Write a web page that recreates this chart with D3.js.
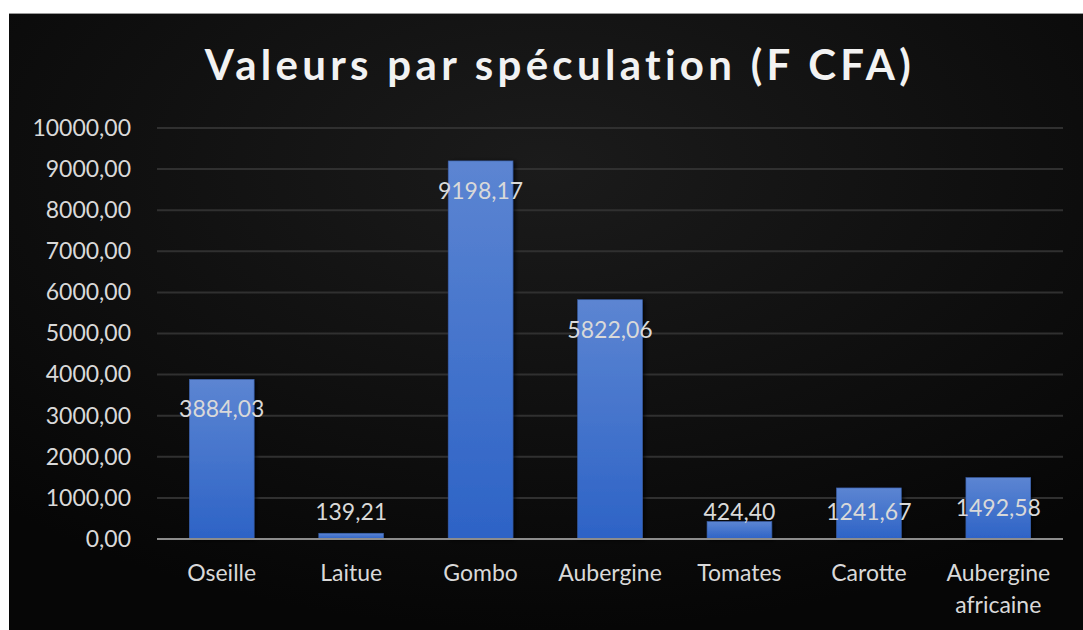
<!DOCTYPE html>
<html>
<head>
<meta charset="utf-8">
<script src="https://cdn.jsdelivr.net/npm/d3@7"></script>
<style>
  body { margin: 0; background: #fff; }
  text { font-family: Lato, "Open Sans", sans-serif; }
</style>
</head>
<body>
<svg id="chart" width="1083" height="630"></svg>
<script>
// data
const categories = ["Oseille", "Laitue", "Gombo", "Aubergine", "Tomates", "Carotte", "Aubergine africaine"];
const values = [3884.03, 139.21, 9198.17, 5822.06, 424.40, 1241.67, 1492.58];
const yTicks = [0, 1000, 2000, 3000, 4000, 5000, 6000, 7000, 8000, 9000, 10000];

const fmt = v => d3.format(".2f")(v).replace(".", ",");
const FONT = "Lato, 'Open Sans', sans-serif";

const svg = d3.select("#chart");
const defs = svg.append("defs");

// fond sombre
const bg = defs.append("radialGradient").attr("id", "bg")
  .attr("cx", "50%").attr("cy", "25%").attr("r", "75%");
bg.append("stop").attr("offset", "0%").attr("stop-color", "#1b1b1b");
bg.append("stop").attr("offset", "100%").attr("stop-color", "#060606");

const barGrad = defs.append("linearGradient").attr("id", "barGrad")
  .attr("x1", 0).attr("y1", 0).attr("x2", 0).attr("y2", 1);
barGrad.append("stop").attr("offset", "0%").attr("stop-color", "#5c85d2");
barGrad.append("stop").attr("offset", "100%").attr("stop-color", "#2d63c6");

const shadow = defs.append("filter").attr("id", "shadow")
  .attr("x", "-20%").attr("y", "-20%").attr("width", "150%").attr("height", "150%");
shadow.append("feDropShadow").attr("dx", 2).attr("dy", 1).attr("stdDeviation", 2)
  .attr("flood-color", "#000").attr("flood-opacity", 0.8);

svg.append("rect").attr("x", 9).attr("y", 13).attr("width", 1074).attr("height", 617)
  .attr("fill", "url(#bg)");
svg.append("line").attr("x1", 9).attr("x2", 1083).attr("y1", 13.5).attr("y2", 13.5)
  .attr("stroke", "#9a9a9a").attr("stroke-width", 1);

const margin = { left: 157, right: 1063, top: 128, bottom: 539 };

const x = d3.scaleBand().domain(categories).range([margin.left, margin.right])
  .paddingInner(0.5).paddingOuter(0.25);
const y = d3.scaleLinear().domain([0, 10000]).range([margin.bottom, margin.top]);

// titre
svg.append("text")
  .attr("x", 560).attr("y", 80)
  .attr("text-anchor", "middle")
  .attr("fill", "#f2f2f2")
  .attr("font-size", 42).attr("font-weight", "bold")
  .attr("letter-spacing", 4.3)
  .text("Valeurs par spéculation (F CFA)");

// grille
svg.append("g").selectAll("line")
  .data(yTicks.filter(d => d > 0))
  .join("line")
  .attr("x1", margin.left).attr("x2", margin.right)
  .attr("y1", d => y(d)).attr("y2", d => y(d))
  .attr("stroke", "#303030").attr("stroke-width", 2);

// axe Y
const yAxis = d3.axisLeft(y).tickValues(yTicks).tickFormat(fmt).tickSize(0).tickPadding(26);
const gy = svg.append("g").attr("transform", `translate(${margin.left},0)`).call(yAxis);
gy.select(".domain").remove();
gy.selectAll("text").attr("fill", "#d9d9d9").attr("font-size", 23)
  .attr("font-family", FONT);

// barres
svg.append("g").selectAll("rect")
  .data(values)
  .join("rect")
  .attr("x", (d, i) => x(categories[i]))
  .attr("y", d => y(d))
  .attr("width", x.bandwidth())
  .attr("height", d => y(0) - y(d))
  .attr("fill", "url(#barGrad)")
  .attr("stroke", "#3a5fa8").attr("stroke-width", 0.6)
  .attr("filter", "url(#shadow)");

// axe X
svg.append("line")
  .attr("x1", margin.left).attr("x2", margin.right)
  .attr("y1", y(0)).attr("y2", y(0))
  .attr("stroke", "#8c8c8c").attr("stroke-width", 2);

const xAxis = d3.axisBottom(x).tickSize(0).tickPadding(0);
const gx = svg.append("g").attr("transform", `translate(0,${margin.bottom})`).call(xAxis);
gx.select(".domain").remove();
gx.selectAll("text").remove();
gx.selectAll(".tick").each(function (d) {
  const words = d === "Aubergine africaine" ? ["Aubergine", "africaine"] : [d];
  const t = d3.select(this).append("text")
    .attr("text-anchor", "middle").attr("fill", "#d9d9d9")
    .attr("font-size", 23).attr("font-family", FONT);
  words.forEach((w, k) => {
    t.append("tspan").attr("x", 0).attr("y", 42 + k * 32).text(w);
  });
});

// étiquettes de valeurs
svg.append("g").selectAll("text")
  .data(values)
  .join("text")
  .attr("x", (d, i) => x(categories[i]) + x.bandwidth() / 2)
  .attr("y", d => Math.min(y(d) + 30, 512) + 8)
  .attr("text-anchor", "middle")
  .attr("fill", "#d9d9d9")
  .attr("font-size", 23)
  .text(fmt);
</script>
</body>
</html>
